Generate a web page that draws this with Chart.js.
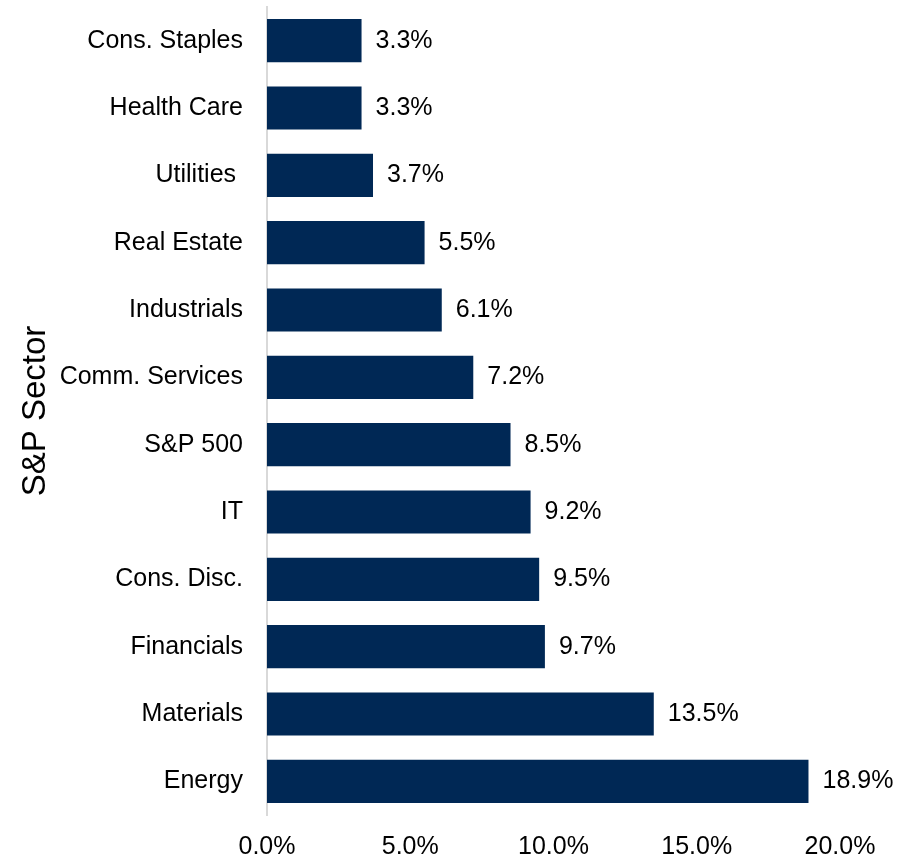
<!DOCTYPE html>
<html>
<head>
<meta charset="utf-8">
<script src="https://cdn.jsdelivr.net/npm/chart.js@4/dist/chart.umd.min.js"></script>
<style>
  html, body { margin: 0; padding: 0; background: #fff; }
  #wrap { width: 898px; height: 858px; position: relative; }
</style>
</head>
<body>
<div id="wrap"><canvas id="sectorChart"></canvas></div>
<script>
// Dane wykresu
const sectors = ['Cons. Staples', 'Health Care', 'Utilities ', 'Real Estate', 'Industrials',
    'Comm. Services', 'S&P 500', 'IT', 'Cons. Disc.', 'Financials', 'Materials', 'Energy'];
const values = [3.3, 3.3, 3.7, 5.5, 6.1, 7.2, 8.5, 9.2, 9.5, 9.7, 13.5, 18.9];
const xTicks = [0, 5, 10, 15, 20];

const FONT = "'Liberation Sans', Arial, sans-serif";

// Etykiety wartosci przy koncach slupkow
const valueLabels = {
    id: 'valueLabels',
    afterDatasetsDraw(chart) {
        const ctx = chart.ctx;
        const meta = chart.getDatasetMeta(0);
        ctx.save();
        ctx.font = '25px ' + FONT;
        ctx.fillStyle = '#000';
        ctx.textAlign = 'left';
        ctx.textBaseline = 'middle';
        meta.data.forEach((bar, i) => {
            ctx.fillText(values[i].toFixed(1) + '%', bar.x + 14, bar.y);
        });
        ctx.restore();
    }
};

new Chart(document.getElementById('sectorChart'), {
    type: 'bar',
    data: {
        labels: sectors,
        datasets: [{
            data: values,
            backgroundColor: '#002855',
            borderWidth: 0,
            barPercentage: 0.64,
            categoryPercentage: 1
        }]
    },
    options: {
        indexAxis: 'y',
        responsive: true,
        maintainAspectRatio: false,
        animation: false,
        layout: { padding: { top: 7, right: 58, left: 0, bottom: 0 } },
        plugins: {
            legend: { display: false },
            tooltip: { enabled: false }
        },
        scales: {
            x: {
                min: 0,
                max: 20,
                afterBuildTicks: (axis) => { axis.ticks = xTicks.map(v => ({ value: v })); },
                afterFit: (axis) => { axis.height = 43; },
                grid: { display: false, drawTicks: false },
                border: { display: false },
                ticks: {
                    padding: 17,
                    color: '#000',
                    font: { family: FONT, size: 25 },
                    callback: (v) => Number(v).toFixed(1) + '%'
                }
            },
            y: {
                afterFit: (axis) => {
                    axis.width = 267;
                    axis.paddingTop = 0;
                    axis.paddingBottom = 0;
                },
                grid: { display: false, drawTicks: false },
                border: { display: true, color: '#d9d9d9', width: 2 },
                ticks: {
                    padding: 24,
                    color: '#000',
                    font: { family: FONT, size: 25 }
                },
                title: {
                    display: true,
                    text: 'S&P Sector',
                    color: '#000',
                    font: { family: FONT, size: 33 },
                    padding: { top: 16, bottom: 0 }
                }
            }
        }
    },
    plugins: [valueLabels]
});
</script>
</body>
</html>
